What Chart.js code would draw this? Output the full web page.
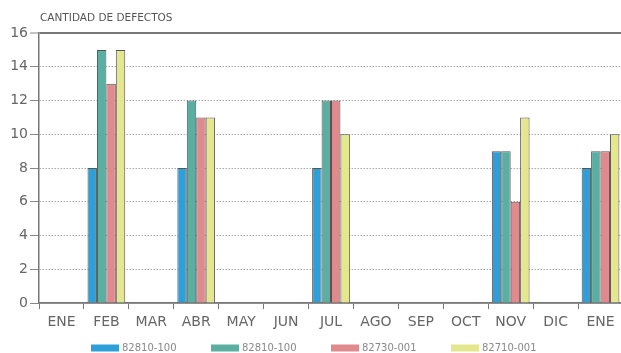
<!DOCTYPE html>
<html>
<head>
<meta charset="utf-8">
<script src="https://cdn.jsdelivr.net/npm/chart.js@4/dist/chart.umd.min.js"></script>
<style>
  html, body { margin: 0; padding: 0; background: #fff; overflow: hidden; }
  #wrap { position: relative; width: 625px; height: 353px; }
</style>
</head>
<body>
<div id="wrap"><canvas id="chart"></canvas></div>
<script>
// Months on the horizontal axis (the year wraps back to ENE)
const months = ['ENE', 'FEB', 'MAR', 'ABR', 'MAY', 'JUN', 'JUL', 'AGO', 'SEP', 'OCT', 'NOV', 'DIC', 'ENE'];

// Defect counts per part number
const part82810a = [null, 8, null, 8, null, null, 8, null, null, null, 9, null, 8];
const part82810b = [null, 15, null, 12, null, null, 12, null, null, null, 9, null, 9];
const part82730 = [null, 13, null, 11, null, null, 12, null, null, null, 6, null, 9];
const part82710 = [null, 15, null, 11, null, null, 10, null, null, null, 11, null, 10];

const seriesNames = ['82810-100', '82810-100', '82730-001', '82710-001'];
const seriesColors = ['#2f9fd9', '#5bafa2', '#e18a8d', '#e4e78c'];

const yTicks = [0, 2, 4, 6, 8, 10, 12, 14, 16];
const yTitle = 'CANTIDAD DE DEFECTOS';

const FONT = '"DejaVu Sans", sans-serif';

// Axis caption above the plot
const captionPlugin = {
  id: 'caption',
  afterDraw(chart) {
    const { ctx, chartArea } = chart;
    ctx.save();
    ctx.font = '10.5px ' + FONT;
    ctx.fillStyle = '#555';
    ctx.textBaseline = 'middle';
    ctx.textAlign = 'left';
    ctx.fillText(yTitle, chartArea.left + 1, 18);
    ctx.restore();
  }
};

// Legend row under the month labels
const legendRowPlugin = {
  id: 'legendRow',
  afterDraw(chart) {
    const { ctx } = chart;
    ctx.save();
    ctx.font = '10px ' + FONT;
    ctx.textBaseline = 'middle';
    ctx.textAlign = 'left';
    let x = 91;
    const y = 348;
    chart.data.datasets.forEach(ds => {
      ctx.fillStyle = ds.backgroundColor;
      ctx.fillRect(x, y - 3.5, 28, 7);
      ctx.fillStyle = '#888';
      ctx.fillText(ds.label, x + 31, y);
      x += 120;
    });
    ctx.restore();
  }
};

const seriesData = [part82810a, part82810b, part82730, part82710];

new Chart(document.getElementById('chart'), {
  type: 'bar',
  data: {
    labels: months,
    datasets: seriesData.map((values, i) => ({
      label: seriesNames[i],
      data: values,
      backgroundColor: seriesColors[i],
      borderColor: '#555',
      borderWidth: 1,
      categoryPercentage: 0.84,
      barPercentage: 1.0
    }))
  },
  options: {
    responsive: true,
    maintainAspectRatio: false,
    animation: false,
    layout: { padding: { top: 33, right: 2, left: 0, bottom: 0 } },
    plugins: {
      legend: { display: false },
      title: { display: false },
      tooltip: { enabled: false }
    },
    scales: {
      x: {
        afterFit(scale) { scale.height = 50; },
        grid: {
          offset: true,
          drawOnChartArea: false,
          drawTicks: true,
          tickLength: 6,
          tickColor: '#777',
          tickWidth: 1
        },
        border: { display: true, color: '#777', width: 1.5 },
        ticks: {
          color: '#666',
          padding: 5,
          font: { family: FONT, size: 14 },
          maxRotation: 0,
          autoSkip: false
        }
      },
      y: {
        min: 0,
        max: 16,
        afterFit(scale) { scale.width = 39; },
        afterBuildTicks(scale) { scale.ticks = yTicks.map(v => ({ value: v })); },
        grid: {
          color: ctx => (ctx.tick && ctx.tick.value === 16) ? '#777' : '#a8a8a8',
          lineWidth: ctx => (ctx.tick && ctx.tick.value === 16) ? 2 : 1,
          drawTicks: true,
          tickLength: 9,
          tickColor: '#888',
          tickWidth: 1
        },
        border: {
          display: true,
          color: '#777',
          width: 1.5,
          dash: ctx => (ctx.tick && (ctx.tick.value === 16 || ctx.tick.value === 0)) ? [] : [1.5, 1.5]
        },
        ticks: {
          color: '#666',
          padding: 2,
          font: { family: FONT, size: 14 }
        }
      }
    }
  },
  plugins: [captionPlugin, legendRowPlugin]
});
</script>
</body>
</html>
